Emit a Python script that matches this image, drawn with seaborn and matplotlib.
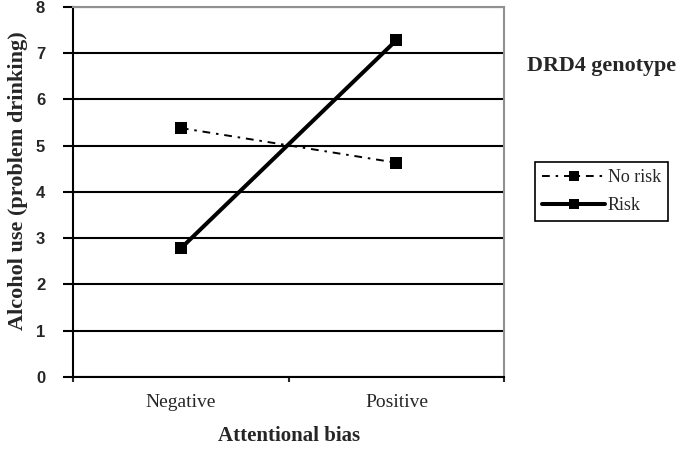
import pandas as pd
import matplotlib.pyplot as plt
import seaborn as sns
from matplotlib.lines import Line2D

# values
bias = ["Negative", "Positive"]
no_risk = [5.38, 4.63]
risk = [2.78, 7.28]
groups = ["No risk", "Risk"]

df = pd.DataFrame({
    "bias": bias * 2,
    "use": no_risk + risk,
    "group": [groups[0]] * 2 + [groups[1]] * 2,
})
df["x"] = df["bias"].map({b: i for i, b in enumerate(bias)})

sns.set_style("white")
plt.rcParams["font.family"] = ["Liberation Serif", "DejaVu Serif"]

fig = plt.figure(figsize=(6.76, 4.51), dpi=100)
ax = fig.add_axes([0.108, 0.164, 0.638, 0.821])

# horizontal grid in black
ax.set_axisbelow(True)
ax.yaxis.grid(True, color="black", linewidth=1.5)
ax.xaxis.grid(False)

dash_nr = (4.0, 3.0, 1.3, 3.0)
sns.lineplot(data=df, x="x", y="use", hue="group", style="group", size="group",
             palette={"No risk": "black", "Risk": "black"},
             dashes={"No risk": dash_nr, "Risk": ""},
             markers={"No risk": "s", "Risk": "s"},
             sizes={"No risk": 1.4, "Risk": 2.9},
             markersize=8, markeredgewidth=0, legend=False, ax=ax)

ax.set_xlim(-0.5, len(bias) - 0.5)
ax.set_ylim(0, 8)
ax.set_yticks(range(0, 9))
ax.set_yticklabels([str(v) for v in range(0, 9)], family="Liberation Sans",
                   fontweight="bold", fontsize=12)
ax.tick_params(axis="y", direction="out", length=7, width=1.5, color="black",
               pad=13, left=True)

# category boundaries as major ticks, labels as minor
ax.set_xticks([i - 0.5 for i in range(len(bias) + 1)])
ax.set_xticklabels([])
ax.set_xticks(range(len(bias)), minor=True)
ax.set_xticklabels(bias, minor=True, fontsize=14)
ax.tick_params(axis="x", which="major", direction="out", length=3.5, width=1.5,
               bottom=True)
ax.tick_params(axis="x", which="minor", length=0, pad=12)

for side in ["left", "bottom"]:
    ax.spines[side].set_color("black")
    ax.spines[side].set_linewidth(1.5)
for side in ["top", "right"]:
    ax.spines[side].set_color("#909090")
    ax.spines[side].set_linewidth(1.5)

ax.set_xlabel("Attentional bias", fontsize=15, fontweight="bold", labelpad=11)
ax.set_ylabel("Alcohol use (problem drinking)", fontsize=16, fontweight="bold")
ax.yaxis.set_label_coords(-0.105, 0.53)

fig.text(0.7796, 0.853, "DRD4 genotype", fontsize=15.8, fontweight="bold",
         va="center", ha="left")

handles = [
    Line2D([], [], color="black", lw=1.4, dashes=dash_nr,
           marker="s", markersize=7, markeredgewidth=0),
    Line2D([], [], color="black", lw=2.9, marker="s", markersize=7,
           markeredgewidth=0),
]
leg = fig.legend(handles, groups, loc="upper left",
                 bbox_to_anchor=(0.791, 0.641), fontsize=13, frameon=True,
                 fancybox=False, edgecolor="black", framealpha=1,
                 handlelength=3.5, handletextpad=0.15, borderpad=0.4,
                 labelspacing=0.6, borderaxespad=0)
leg.get_frame().set_linewidth(1.2)

fig.savefig("out.png", dpi=100)
